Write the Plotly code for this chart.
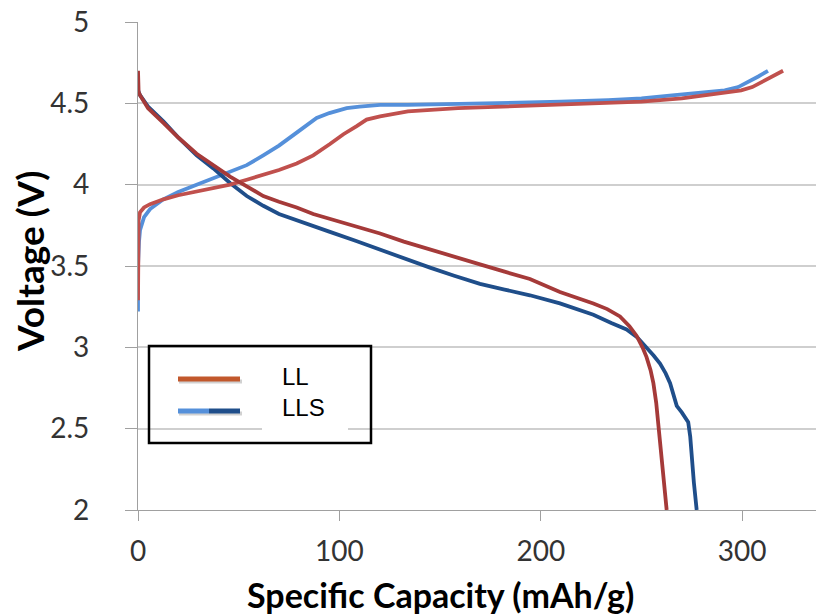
import plotly.graph_objects as go

# ---- data ----
ll_charge_x = [0, 0, 0.3, 1, 3, 6, 12.6, 20, 29.1, 37, 45.7, 54, 62.2, 70, 78.8, 87, 95.3, 102, 108.6, 113.5,
               120.2, 134, 158.9, 180, 200.3, 225, 249.9, 270, 283, 292, 299.5, 305, 309.5, 315, 320.3]
ll_charge_y = [3.29, 3.60, 3.78, 3.83, 3.86, 3.88, 3.91, 3.935, 3.96, 3.98, 4.00, 4.03, 4.06, 4.09, 4.13, 4.18, 4.25, 4.31, 4.36, 4.40,
               4.42, 4.45, 4.47, 4.48, 4.49, 4.50, 4.51, 4.53, 4.55, 4.565, 4.58, 4.60, 4.63, 4.665, 4.70]

lls_charge_x = [0, 0, 0.5, 1, 3, 6, 12.6, 20, 29.1, 37, 45.7, 54, 62.2, 70, 78.8, 84, 88.7, 95, 103.6, 110,
                120.2, 134, 160, 183.7, 210, 233.4, 250, 266.5, 280, 291.3, 298, 302.9, 308, 312.8]
lls_charge_y = [3.22, 3.50, 3.65, 3.72, 3.80, 3.85, 3.91, 3.955, 4.00, 4.04, 4.08, 4.12, 4.18, 4.24, 4.32, 4.37, 4.41, 4.44, 4.47, 4.48,
                4.49, 4.49, 4.495, 4.50, 4.51, 4.52, 4.53, 4.55, 4.565, 4.58, 4.60, 4.63, 4.665, 4.70]

ll_dis_x = [0, 0.3, 1, 5, 12.6, 20, 29.1, 37, 45.7, 54, 62.2, 70, 78.8, 87, 95.3, 108, 120.2, 132, 145, 157,
            169.8, 182, 194.6, 209.5, 219.5, 226.1, 233, 239.3, 244, 247.6, 250.5, 252.5, 254.5, 255.9, 257.3, 258.4, 259.3, 260, 261.3, 262.5]
ll_dis_y = [4.70, 4.57, 4.55, 4.47, 4.38, 4.29, 4.19, 4.12, 4.05, 3.99, 3.93, 3.895, 3.86, 3.82, 3.79, 3.745, 3.70, 3.65, 3.60, 3.555,
            3.51, 3.465, 3.42, 3.34, 3.30, 3.27, 3.235, 3.19, 3.13, 3.07, 3.00, 2.94, 2.86, 2.78, 2.66, 2.53, 2.41, 2.29, 2.15, 2.00]

lls_dis_x = [0, 0.5, 1, 5, 12.6, 20, 29.1, 37.4, 45.7, 54, 62.2, 70, 78.8, 87, 95.3, 108, 120.2, 132, 145, 157,
             169.8, 182, 194.6, 209.5, 219.5, 226.1, 235, 242.6, 248, 252.5, 256, 259.2, 262, 264.2, 266, 267.5, 270, 273.2,
             274.2, 274.9, 276, 277.4]
lls_dis_y = [4.58, 4.56, 4.55, 4.48, 4.39, 4.29, 4.18, 4.10, 4.01, 3.93, 3.87, 3.82, 3.78, 3.745, 3.71, 3.655, 3.60, 3.545, 3.49, 3.44,
             3.39, 3.355, 3.32, 3.27, 3.23, 3.20, 3.15, 3.11, 3.06, 3.00, 2.95, 2.90, 2.84, 2.78, 2.71, 2.64, 2.60, 2.54,
             2.45, 2.33, 2.17, 2.00]

x_ticks = [0, 100, 200, 300]
y_ticks = [2, 2.5, 3, 3.5, 4, 4.5, 5]
legend_names = ["LL", "LLS"]

# ---- styles ----
C_LL_CH = "#C0504D"
C_LL_DIS = "#A53A39"
C_LLS_CH = "#5590DA"
C_LLS_DIS = "#1F4E8A"
C_LEG_LL = "#C2582C"

W, H = 816, 614
L, T, R, B = 138, 22, 0, 104
PW, PH = W - L - R, H - T - B


def px(xp):
    return (xp - L) / PW


def py(yp):
    return (H - B - yp) / PH


fig = go.Figure()
lw = 3.8
fig.add_trace(go.Scatter(x=lls_charge_x, y=lls_charge_y, mode="lines", line=dict(color=C_LLS_CH, width=lw), showlegend=False))
fig.add_trace(go.Scatter(x=lls_dis_x, y=lls_dis_y, mode="lines", line=dict(color=C_LLS_DIS, width=lw), showlegend=False))
fig.add_trace(go.Scatter(x=ll_charge_x, y=ll_charge_y, mode="lines", line=dict(color=C_LL_CH, width=lw), showlegend=False))
fig.add_trace(go.Scatter(x=ll_dis_x, y=ll_dis_y, mode="lines", line=dict(color=C_LL_DIS, width=lw), showlegend=False))

shapes = []
# white area behind legend text (hides gridline there)
shapes.append(dict(type="rect", xref="paper", yref="paper", x0=px(262), x1=px(348), y0=py(441), y1=py(348),
                   fillcolor="white", line=dict(width=0), layer="above"))
# legend frame
shapes.append(dict(type="rect", xref="paper", yref="paper", x0=px(149), x1=px(371), y0=py(443), y1=py(346),
                   fillcolor="rgba(0,0,0,0)", line=dict(color="black", width=2.5), layer="above"))
# legend sample shadows
for yy in (381.5, 413.5):
    shapes.append(dict(type="line", xref="paper", yref="paper", x0=px(179), x1=px(242), y0=py(yy), y1=py(yy),
                       line=dict(color="rgba(0,0,0,0.18)", width=4), layer="above"))
# legend samples
shapes.append(dict(type="line", xref="paper", yref="paper", x0=px(178), x1=px(240), y0=py(379), y1=py(379),
                   line=dict(color=C_LEG_LL, width=5), layer="above"))
shapes.append(dict(type="line", xref="paper", yref="paper", x0=px(178), x1=px(209), y0=py(411), y1=py(411),
                   line=dict(color=C_LLS_CH, width=5), layer="above"))
shapes.append(dict(type="line", xref="paper", yref="paper", x0=px(209), x1=px(240), y0=py(411), y1=py(411),
                   line=dict(color=C_LLS_DIS, width=5), layer="above"))

annotations = []
for name, yy in zip(legend_names, (376, 407)):
    annotations.append(dict(text=name, xref="paper", yref="paper", x=px(280), y=py(yy), xanchor="left", yanchor="middle",
                            showarrow=False, font=dict(family="Liberation Sans, Arial", size=24, color="black")))
annotations.append(dict(text="<b>Specific Capacity (mAh/g)</b>", xref="paper", yref="paper", x=px(440), y=py(594),
                        xanchor="center", yanchor="middle", showarrow=False,
                        font=dict(family="Lato", size=34, color="black")))
annotations.append(dict(text="<b>Voltage (V)</b>", xref="paper", yref="paper", x=px(29), y=py(262),
                        xanchor="center", yanchor="middle", showarrow=False, textangle=-90,
                        font=dict(family="Lato", size=37, color="black")))

fig.update_layout(
    width=W, height=H,
    margin=dict(l=L, r=R, t=T, b=B, pad=0),
    paper_bgcolor="white", plot_bgcolor="white",
    showlegend=False,
    shapes=shapes, annotations=annotations,
    xaxis=dict(range=[0, PW / 2.014], tickvals=x_ticks, ticks="outside", ticklen=10, tickwidth=1.2, tickcolor="#A0A0A0",
               showline=True, linecolor="#A0A0A0", linewidth=1.2, showgrid=False, zeroline=False,
               tickfont=dict(family="Lato", size=28, color="#333333"), ticklabelstandoff=6),
    yaxis=dict(range=[2, 5], tickvals=y_ticks, ticks="outside", ticklen=12, tickwidth=1.2, tickcolor="#A0A0A0",
               showline=True, linecolor="#A0A0A0", linewidth=1.2, showgrid=True, gridcolor="#CFCFCF", gridwidth=1.5,
               zeroline=False, tickfont=dict(family="Lato", size=28, color="#333333"), ticklabelstandoff=30),
)

fig.write_html("out.html", config={"displayModeBar": False},
               post_script="document.body.style.margin='0';document.body.style.overflow='hidden';")
